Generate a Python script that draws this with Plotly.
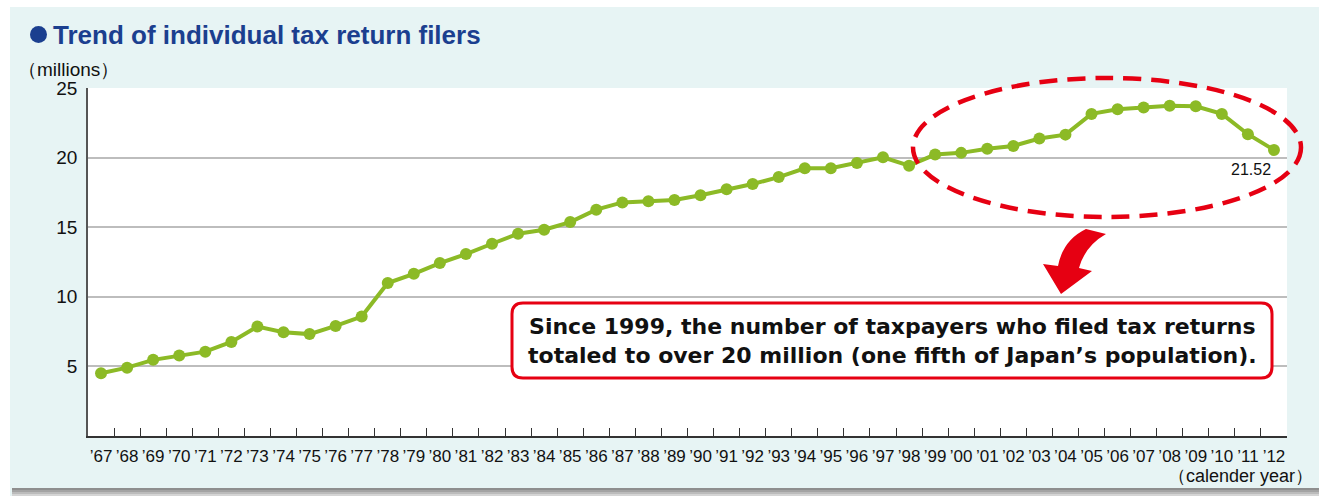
import plotly.graph_objects as go

# ---------------- data ----------------
years = [f"’{y % 100:02d}" for y in range(1967, 2013)]
filers = [4.51, 4.91, 5.47, 5.78, 6.06, 6.76, 7.86, 7.46, 7.32, 7.91, 8.58,
          10.99, 11.65, 12.42, 13.07, 13.81, 14.53, 14.82, 15.37, 16.26, 16.78,
          16.86, 16.96, 17.30, 17.72, 18.10, 18.60, 19.23, 19.23, 19.62, 20.02,
          19.42, 20.22, 20.34, 20.64, 20.84, 21.37, 21.65, 23.14, 23.47, 23.60,
          23.72, 23.69, 23.14, 21.68, 20.55]
y_ticks = [5, 10, 15, 20, 25]
last_label = "21.52"

title_text = "Trend of individual tax return filers"
y_unit = "（millions）"
x_unit = "（calender year）"
note_text = ("Since 1999, the number of taxpayers who filed tax returns<br>"
             "totaled to over 20 million (one fifth of Japan’s population).")

# ---------------- geometry helpers (pixel -> paper) ----------------
W, H = 1319, 496
L, R, T, B = 88, 1287, 88, 436


def px(x):
    return (x - L) / (R - L)


def py(y):
    return (B - y) / (B - T)


GREEN = "#8CBA26"
RED = "#E60012"
NAVY = "#1B3F8F"
TEAL = "#E7F4F4"

fig = go.Figure()
fig.add_trace(go.Scatter(
    x=years, y=filers, mode="lines+markers",
    line=dict(color=GREEN, width=4),
    marker=dict(color=GREEN, size=12),
    showlegend=False, hoverinfo="skip", cliponaxis=False,
))

shapes = []
# white margins outside the teal panel
shapes.append(dict(type="rect", xref="paper", yref="paper", x0=px(0), x1=px(W),
                   y0=py(0), y1=py(7), fillcolor="white", line_width=0, layer="below"))
shapes.append(dict(type="rect", xref="paper", yref="paper", x0=px(0), x1=px(10),
                   y0=py(0), y1=py(H), fillcolor="white", line_width=0, layer="below"))
# bottom shadow
for (y0, y1, c) in [(488, 490, "#8e8e8e"), (490, 492, "#a3a3a3"),
                    (492, 494, "#bbbbbb"), (494, 496, "#d4d4d4")]:
    shapes.append(dict(type="rect", xref="paper", yref="paper", x0=px(12), x1=px(W),
                       y0=py(y0), y1=py(y1), fillcolor=c, line_width=0, layer="below"))

# title bullet
shapes.append(dict(type="circle", xref="paper", yref="paper",
                   x0=px(30), x1=px(47), y0=py(26), y1=py(43),
                   fillcolor=NAVY, line_width=0))

# dashed ellipse
shapes.append(dict(type="circle", xref="paper", yref="paper",
                   x0=px(913), x1=px(1301), y0=py(78), y1=py(217),
                   line=dict(color=RED, width=4.5, dash="18px,10px"),
                   fillcolor="rgba(0,0,0,0)", layer="above"))

# curved arrow
pts = [("M", (1086, 229)), ("L", (1106, 234)), ("Q", (1085, 246), (1079, 268)),
       ("L", (1092, 271)), ("L", (1061, 294)), ("L", (1043, 264)), ("L", (1058, 266)),
       ("Q", (1063, 240), (1086, 229))]
path = ""
for item in pts:
    cmd = item[0]
    coords = " ".join(f"{px(p[0]):.5f},{py(p[1]):.5f}" for p in item[1:])
    path += f"{cmd}{coords} "
path += "Z"
shapes.append(dict(type="path", xref="paper", yref="paper", path=path,
                   fillcolor=RED, line_width=0, layer="above"))

# rounded note box
x0b, x1b, y0b, y1b, rr = 512, 1272, 303, 378, 11
box = [("M", (x0b + rr, y0b)), ("L", (x1b - rr, y0b)), ("Q", (x1b, y0b), (x1b, y0b + rr)),
       ("L", (x1b, y1b - rr)), ("Q", (x1b, y1b), (x1b - rr, y1b)),
       ("L", (x0b + rr, y1b)), ("Q", (x0b, y1b), (x0b, y1b - rr)),
       ("L", (x0b, y0b + rr)), ("Q", (x0b, y0b), (x0b + rr, y0b))]
bpath = ""
for item in box:
    cmd = item[0]
    coords = " ".join(f"{px(p[0]):.5f},{py(p[1]):.5f}" for p in item[1:])
    bpath += f"{cmd}{coords} "
bpath += "Z"
shapes.append(dict(type="path", xref="paper", yref="paper", path=bpath,
                   fillcolor="white", line=dict(color=RED, width=3), layer="above"))

annotations = [
    dict(xref="paper", yref="paper", x=px(51), y=py(35), text=f"<b>{title_text}</b>",
         showarrow=False, xanchor="left", yanchor="middle",
         font=dict(family="Liberation Sans, Arial", size=26, color=NAVY)),
    dict(xref="paper", yref="paper", x=px(16), y=py(69), text=y_unit,
         showarrow=False, xanchor="left", yanchor="middle",
         font=dict(family="Liberation Sans, Arial", size=19, color="#111")),
    dict(xref="paper", yref="paper", x=px(1315), y=py(476), text=x_unit,
         showarrow=False, xanchor="right", yanchor="middle",
         font=dict(family="Liberation Sans, Arial", size=18, color="#111")),
    dict(xref="x", yref="y", x=years[-1], y=filers[-1], text=last_label,
         showarrow=False, xanchor="right", yanchor="middle", xshift=-1, yshift=-20,
         font=dict(family="Liberation Sans, Arial", size=16, color="#111")),
    dict(xref="paper", yref="paper", x=px(892), y=py(341), text=f"<b>{note_text}</b>",
         showarrow=False, xanchor="center", yanchor="middle", align="center",
         font=dict(family="DejaVu Sans", size=22, color="#111")),
]

fig.update_layout(
    width=W, height=H,
    margin=dict(l=L, r=W - R, t=T, b=H - B, pad=0),
    paper_bgcolor=TEAL, plot_bgcolor="white",
    shapes=shapes, annotations=annotations,
    xaxis=dict(
        type="category", categoryorder="array", categoryarray=years,
        range=[-0.5, len(years) - 0.5], autorange=False,
        showgrid=False, showline=True, linecolor="#333", linewidth=1.5,
        ticks="inside", ticklen=8, tickcolor="#333", tickwidth=1,
        tickson="boundaries", ticklabelstandoff=4, tickangle=0,
        tickfont=dict(family="Liberation Sans, Arial", size=17, color="#111"),
        fixedrange=True,
    ),
    yaxis=dict(
        range=[0, 25], autorange=False, tickvals=y_ticks, showgrid=True,
        gridcolor="#BDBDBD", gridwidth=1.5,
        showline=True, linecolor="#555", linewidth=1.5, zeroline=False,
        ticks="", ticklabelstandoff=5,
        tickfont=dict(family="Liberation Sans, Arial", size=19, color="#111"),
        fixedrange=True,
    ),
)

fig.write_html("out.html")
